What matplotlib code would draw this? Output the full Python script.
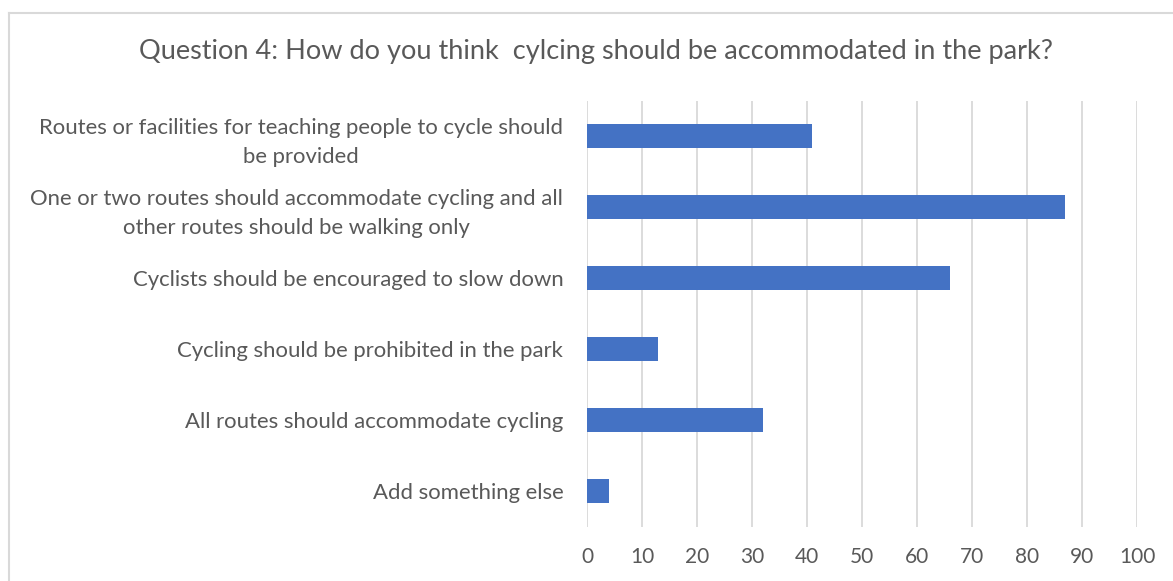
import matplotlib
matplotlib.use("Agg")
import matplotlib.pyplot as plt
from matplotlib.lines import Line2D

categories = [
    "Routes or facilities for teaching people to cycle should\nbe provided",
    "One or two routes should accommodate cycling and all\nother routes should be walking only",
    "Cyclists should be encouraged to slow down",
    "Cycling should be prohibited in the park",
    "All routes should accommodate cycling",
    "Add something else",
]
values = [41, 87, 66, 13, 32, 4]
ticks = list(range(0, 101, 10))

title = "Question 4: How do you think  cylcing should be accommodated in the park?"

plt.rcParams['font.family'] = ['Lato', 'DejaVu Sans']
text_col = '#595959'

fig = plt.figure(figsize=(11.73, 5.81), dpi=100)
ax = fig.add_axes([0.5004, 0.0938, 0.4689, 0.7332])

pos = list(range(len(categories)))
ax.barh(pos, values, height=0.35, color='#4472C4', zorder=3)
ax.set_ylim(len(categories) - 0.5, -0.5)
ax.set_xlim(0, 100)
ax.set_xticks(ticks)
ax.set_yticks(pos)
ax.set_yticklabels(categories, multialignment='center', linespacing=1.55)
ax.grid(axis='x', color='#D9D9D9', linewidth=1.3, zorder=0)
for s in ax.spines.values():
    s.set_visible(False)
ax.tick_params(axis='x', length=0, labelsize=15, colors=text_col, pad=15)
ax.tick_params(axis='y', length=0, labelsize=15.9, colors=text_col, pad=17)

fig.text(0.5077, 0.912, title, ha='center', va='center', fontsize=19.5, color=text_col)

# chart border (top and left edges visible in the crop)
fig.add_artist(Line2D([0.008, 1.0], [1 - 12.5 / 581] * 2, color='#D9D9D9', lw=1.5, transform=fig.transFigure))
fig.add_artist(Line2D([0.008, 0.008], [0, 1 - 12.5 / 581], color='#D9D9D9', lw=1.5, transform=fig.transFigure))

fig.savefig('out.png', dpi=100)
